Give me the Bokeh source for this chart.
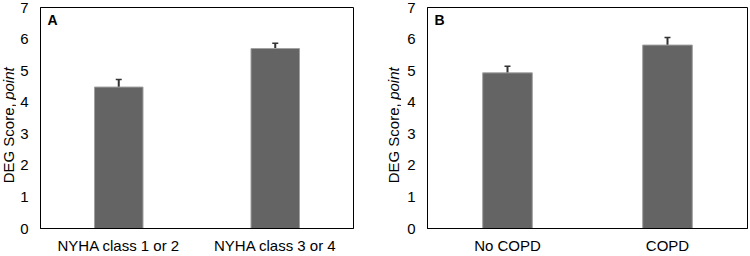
import math
from bokeh.plotting import figure
from bokeh.models import ColumnDataSource, Whisker, Label, TeeHead, FactorRange, Range1d
from bokeh.core.properties import value
from bokeh.layouts import row
from bokeh.embed import file_html
from bokeh.resources import INLINE

FONT = "Liberation Sans"

# Panel A data
cats_a = ["NYHA class 1 or 2", "NYHA class 3 or 4"]
mean_a = [4.48, 5.70]
low_a = [4.26, 5.56]
high_a = [4.72, 5.87]

# Panel B data
cats_b = ["No COPD", "COPD"]
mean_b = [4.93, 5.81]
low_b = [4.79, 5.60]
high_b = [5.14, 6.05]

y_ticks = [0, 1, 2, 3, 4, 5, 6, 7]
title_parts = ["DEG Score,", "point"]
title_styles = ["normal", "italic"]
title_aligns = ["right", "left"]


def make_title(width, xc):
    # narrow strip holding the rotated y-axis title (regular + italic part)
    t = figure(width=width, height=256, output_backend="svg", toolbar_location=None,
               x_range=Range1d(0, width), y_range=Range1d(0, 256),
               x_axis_location=None, y_axis_location=None,
               min_border=0, min_border_left=0, min_border_right=0,
               min_border_top=0, min_border_bottom=0)
    t.grid.visible = False
    t.outline_line_color = None
    t.background_fill_color = "white"
    t.border_fill_color = "white"
    anchors = [145, 149]
    for txt, sty, al, y0 in zip(title_parts, title_styles, title_aligns, anchors):
        t.text(x=[xc], y=[y0], text=[txt], angle=math.pi / 2,
               text_align=al, text_baseline="middle",
               text_font=value(FONT), text_font_size="15px",
               text_font_style=sty, text_color="black")
    return t


def make_panel(cats, means, lows, highs, letter, width, left, right, bar_w):
    p = figure(x_range=FactorRange(*cats), y_range=Range1d(0, 7),
               width=width, height=256, output_backend="svg",
               toolbar_location=None, min_border_left=left, min_border_right=right,
               min_border_top=7, min_border_bottom=24)
    src = ColumnDataSource(dict(cat=cats, mean=means, low=lows, high=highs))
    p.vbar(x="cat", top="mean", width=bar_w, source=src,
           fill_color="#646464", line_color="#a0a0a0", line_width=1)
    w = Whisker(base="cat", lower="low", upper="high", source=src,
                line_color="#333333", line_width=2,
                upper_head=TeeHead(size=6, line_color="#333333", line_width=1.5),
                lower_head=TeeHead(size=6, line_color="#333333", line_width=1.5))
    p.add_layout(w)
    p.grid.visible = False
    p.outline_line_color = "black"
    p.outline_line_width = 1
    p.background_fill_color = "white"
    p.border_fill_color = "white"

    p.yaxis.ticker = y_ticks
    p.yaxis.major_tick_line_color = None
    p.yaxis.minor_tick_line_color = None
    p.yaxis.major_tick_out = 0
    p.yaxis.major_tick_in = 0
    p.yaxis.axis_line_color = "black"
    p.yaxis.major_label_standoff = 12
    p.yaxis.major_label_text_font = FONT
    p.yaxis.major_label_text_font_size = "15px"
    p.yaxis.major_label_text_color = "black"

    p.xaxis.major_tick_line_color = None
    p.xaxis.minor_tick_line_color = None
    p.xaxis.major_tick_out = 0
    p.xaxis.major_tick_in = 0
    p.xaxis.axis_line_color = "black"
    p.xaxis.major_label_standoff = 8
    p.xaxis.major_label_text_font = FONT
    p.xaxis.major_label_text_font_size = "15px"
    p.xaxis.major_label_text_color = "black"

    # panel letter
    p.add_layout(Label(x=7, y=217, x_units="screen", y_units="screen",
                       text=letter, text_align="left", text_baseline="top",
                       text_font=FONT, text_font_size="14px", text_font_style="bold",
                       text_color="black"))
    return p


ta = make_title(16, 8)
pa = make_panel(cats_a, mean_a, low_a, high_a, "A", 359, 24, 22, 0.31)
tb = make_title(26, 18)
pb = make_panel(cats_b, mean_b, low_b, high_b, "B", 349, 26, 3, 0.31)

layout = row(ta, pa, tb, pb, spacing=0)
open("out.html", "w").write(file_html(layout, INLINE))
